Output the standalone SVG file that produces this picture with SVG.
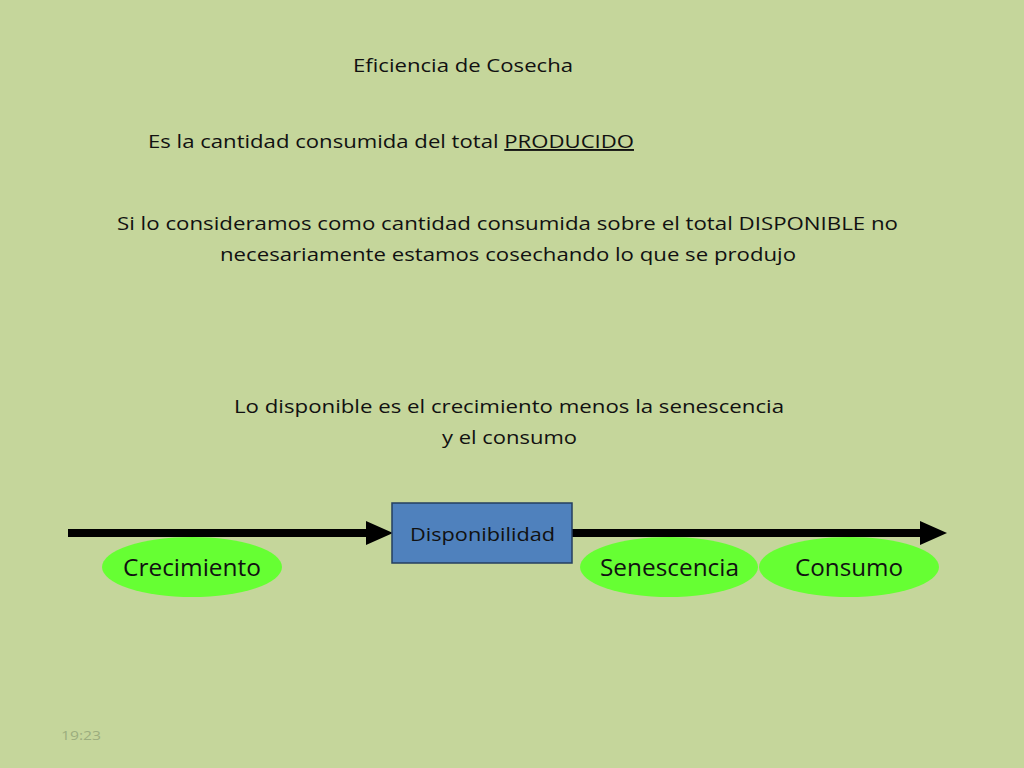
<svg xmlns="http://www.w3.org/2000/svg" width="1024" height="768" viewBox="0 0 1024 768">
<defs>
<style>
.t{font-family:"Open Sans","Liberation Sans",sans-serif;fill:#111;}
.body{font-size:19px;}
.ell{fill:#66FF33;}
.shaft{stroke:#000;stroke-width:8;fill:none;}
</style>
</defs>
<rect width="1024" height="768" fill="#C5D69B"/>
<g id="texts">
<text class="t body" x="353" y="72" textLength="220" lengthAdjust="spacingAndGlyphs">Eficiencia de Cosecha</text>
<text class="t body" x="148" y="148" textLength="486" lengthAdjust="spacingAndGlyphs">Es la cantidad consumida del total <tspan text-decoration="underline">PRODUCIDO</tspan></text>
<text class="t body" x="117" y="230" textLength="781" lengthAdjust="spacingAndGlyphs">Si lo consideramos como cantidad consumida sobre el total DISPONIBLE  no</text>
<text class="t body" x="220" y="261" textLength="576" lengthAdjust="spacingAndGlyphs">necesariamente estamos cosechando lo que se produjo</text>
<text class="t body" x="234" y="413" textLength="550" lengthAdjust="spacingAndGlyphs">Lo disponible es el crecimiento menos la senescencia</text>
<text class="t body" x="442" y="444" textLength="135" lengthAdjust="spacingAndGlyphs">y el consumo</text>
<text x="61" y="740" font-family="Open Sans, Liberation Sans, sans-serif" font-size="13" fill="#9BAD7E" textLength="40" lengthAdjust="spacingAndGlyphs">19:23</text>
</g>
<g id="connectors">
<path d="M68,533 H368" class="shaft"/>
<path d="M366,521 L393,533 L366,545 Z" fill="#000"/>
<path d="M572,533 H922" class="shaft"/>
<path d="M920,521 L947,533 L920,545 Z" fill="#000"/>
</g>
<g id="node-disponibilidad">
<rect x="392" y="503" width="180" height="60" fill="#4F81BD" stroke="#243F60" stroke-width="1.5"/>
<text class="t" x="410" y="541" font-size="18" textLength="145" lengthAdjust="spacingAndGlyphs">Disponibilidad</text>
</g>
<g id="node-crecimiento">
<ellipse class="ell" cx="192" cy="567" rx="90" ry="30"/>
<text class="t" x="123" y="576" font-size="23" textLength="138" lengthAdjust="spacingAndGlyphs">Crecimiento</text>
</g>
<g id="node-senescencia">
<ellipse class="ell" cx="669" cy="567" rx="89" ry="30"/>
<text class="t" x="600" y="576" font-size="23" textLength="139" lengthAdjust="spacingAndGlyphs">Senescencia</text>
</g>
<g id="node-consumo">
<ellipse class="ell" cx="849" cy="567" rx="90" ry="30"/>
<text class="t" x="795" y="576" font-size="23" textLength="108" lengthAdjust="spacingAndGlyphs">Consumo</text>
</g>
</svg>
